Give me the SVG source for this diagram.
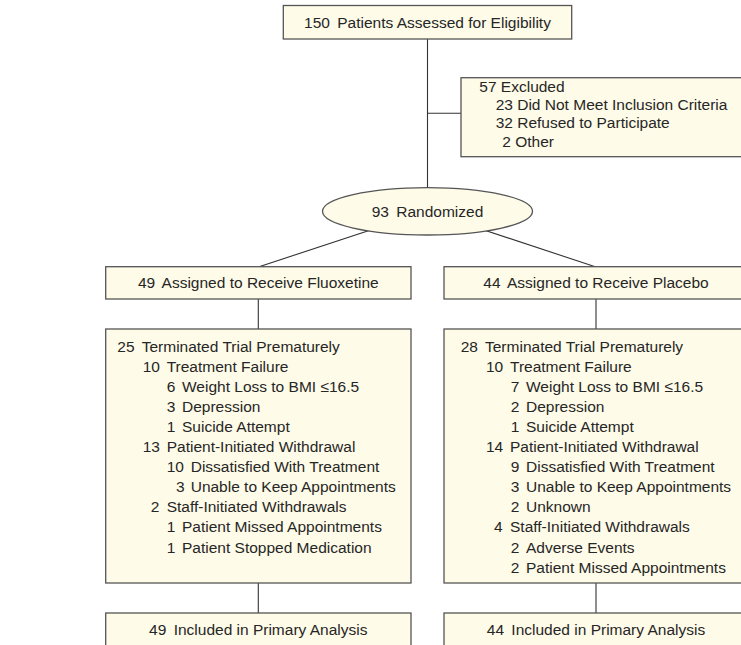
<svg xmlns="http://www.w3.org/2000/svg" width="741" height="645" viewBox="0 0 741 645">
<style>
  .box { fill: #fefbe8; stroke: #555; stroke-width: 1.3; }
  .conn { stroke: #333; stroke-width: 1.1; fill: none; }
  text { font-family: "Liberation Sans", Arial, Helvetica, sans-serif; font-size: 15.5px; fill: #262626; }
  .c { text-anchor: middle; }
</style>
<rect width="741" height="645" fill="#ffffff"/>
<g id="connectors">
  <line class="conn" x1="427.5" y1="39" x2="427.5" y2="188"/>
  <line class="conn" x1="427.5" y1="113.3" x2="461" y2="113.3"/>
  <line class="conn" x1="427.5" y1="211.3" x2="258.3" y2="267"/>
  <line class="conn" x1="427.5" y1="211.3" x2="596" y2="267"/>
  <line class="conn" x1="258.3" y1="299" x2="258.3" y2="329"/>
  <line class="conn" x1="596" y1="299" x2="596" y2="329"/>
  <line class="conn" x1="258.3" y1="583" x2="258.3" y2="613"/>
  <line class="conn" x1="596" y1="583" x2="596" y2="613"/>
</g>
<g id="assessed">
  <rect class="box" x="283.3" y="5.5" width="288.4" height="33.5"/>
  <text class="c" x="427.5" y="27.8">150<tspan dx="3"> Patients Assessed for Eligibility</tspan></text>
</g>
<g id="excluded">
  <rect class="box" x="461" y="77.7" width="300" height="79"/>
  <text x="479.3" y="91.7">57 Excluded</text>
  <text x="495.7" y="110">23 Did Not Meet Inclusion Criteria</text>
  <text x="495.7" y="128.3">32 Refused to Participate</text>
  <text x="502.3" y="146.7">2 Other</text>
</g>
<g id="randomized">
  <ellipse class="box" cx="427.5" cy="211.3" rx="105" ry="23.7"/>
  <text class="c" x="427.5" y="216.8">93<tspan dx="3"> Randomized</tspan></text>
</g>
<g id="assigned-fluoxetine">
  <rect class="box" x="105.7" y="266.7" width="305.3" height="32.3"/>
  <text class="c" x="258.3" y="288.3">49<tspan dx="3"> Assigned to Receive Fluoxetine</tspan></text>
</g>
<g id="assigned-placebo">
  <rect class="box" x="444" y="266.7" width="305" height="32.3"/>
  <text class="c" x="596" y="288.3">44<tspan dx="3"> Assigned to Receive Placebo</tspan></text>
</g>
<g id="terminated-fluoxetine">
  <rect class="box" x="105.7" y="329" width="305.3" height="254"/>
  <text x="117.3" y="351.5">25</text><text x="141.7" y="351.5">Terminated Trial Prematurely</text>
  <text x="142.7" y="371.6">10</text><text x="166.7" y="371.6">Treatment Failure</text>
  <text x="166.7" y="391.7">6</text><text x="182" y="391.7">Weight Loss to BMI ≤16.5</text>
  <text x="166.7" y="411.8">3</text><text x="182" y="411.8">Depression</text>
  <text x="166.7" y="431.9">1</text><text x="182" y="431.9">Suicide Attempt</text>
  <text x="142.7" y="452">13</text><text x="166.7" y="452">Patient-Initiated Withdrawal</text>
  <text x="166.7" y="472.1">10</text><text x="190.7" y="472.1">Dissatisfied With Treatment</text>
  <text x="176" y="492.2">3</text><text x="190.7" y="492.2">Unable to Keep Appointments</text>
  <text x="150.7" y="512.3">2</text><text x="166.7" y="512.3">Staff-Initiated Withdrawals</text>
  <text x="166.7" y="532.4">1</text><text x="182" y="532.4">Patient Missed Appointments</text>
  <text x="166.7" y="552.5">1</text><text x="182" y="552.5">Patient Stopped Medication</text>
</g>
<g id="terminated-placebo">
  <rect class="box" x="444" y="329" width="305" height="254"/>
  <text x="460.7" y="351.5">28</text><text x="485" y="351.5">Terminated Trial Prematurely</text>
  <text x="486" y="371.6">10</text><text x="510" y="371.6">Treatment Failure</text>
  <text x="510.7" y="391.7">7</text><text x="526" y="391.7">Weight Loss to BMI ≤16.5</text>
  <text x="510.7" y="411.8">2</text><text x="526" y="411.8">Depression</text>
  <text x="510.7" y="431.9">1</text><text x="526" y="431.9">Suicide Attempt</text>
  <text x="486" y="452">14</text><text x="510" y="452">Patient-Initiated Withdrawal</text>
  <text x="510.7" y="472.1">9</text><text x="526" y="472.1">Dissatisfied With Treatment</text>
  <text x="510.7" y="492.2">3</text><text x="526" y="492.2">Unable to Keep Appointments</text>
  <text x="510.7" y="512.3">2</text><text x="526" y="512.3">Unknown</text>
  <text x="494" y="532.4">4</text><text x="510" y="532.4">Staff-Initiated Withdrawals</text>
  <text x="510.7" y="552.5">2</text><text x="526" y="552.5">Adverse Events</text>
  <text x="510.7" y="572.6">2</text><text x="526" y="572.6">Patient Missed Appointments</text>
</g>
<g id="analysis-fluoxetine">
  <rect class="box" x="105.7" y="613" width="305.3" height="60"/>
  <text class="c" x="258.3" y="634.5">49<tspan dx="3"> Included in Primary Analysis</tspan></text>
</g>
<g id="analysis-placebo">
  <rect class="box" x="444" y="613" width="305" height="60"/>
  <text class="c" x="596" y="634.5">44<tspan dx="3"> Included in Primary Analysis</tspan></text>
</g>
</svg>
